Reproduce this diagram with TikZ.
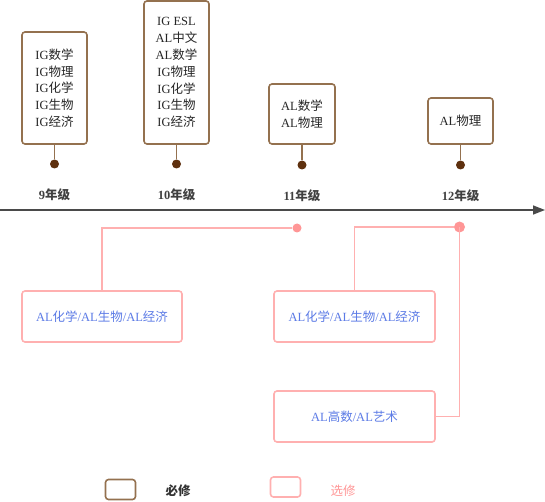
\documentclass[tikz,border=0pt]{standalone}
\usepackage{fontspec}
\setmainfont{Liberation Serif}
\newfontfamily\cjk{Noto Sans CJK SC}
\usetikzlibrary{arrows.meta}
\definecolor{brownline}{HTML}{94714F}
\definecolor{browndot}{HTML}{5E300E}
\definecolor{pinkline}{HTML}{FFB0B0}
\definecolor{pinkdot}{HTML}{FF9696}
\definecolor{bluetext}{HTML}{5C7BE6}
\definecolor{axisgray}{HTML}{4A4A4A}
\newcommand{\zh}[1]{{\cjk #1}}
\tikzset{
  reqbox/.style={draw=brownline, line width=1.6pt, rounded corners=3pt, fill=white, align=center, inner sep=0pt, font=\fontsize{12.5}{16.8}\selectfont, text=black!85},
  optbox/.style={draw=pinkline, line width=1.6pt, rounded corners=3pt, fill=white, align=center, inner sep=0pt, minimum width=160pt, minimum height=51pt, font=\fontsize{12.5}{15}\selectfont, text=bluetext},
  stem/.style={draw=brownline, line width=1.6pt},
  bdot/.style={circle, fill=browndot, inner sep=0pt, minimum size=9pt},
  pline/.style={draw=pinkline, line width=1.7pt},
  pdot/.style={circle, fill=pinkdot, inner sep=0pt},
  yearlbl/.style={font=\bfseries\fontsize{12.5}{14}\selectfont, text=black!75},
}
\begin{document}
\begin{tikzpicture}[x=1pt,y=-1pt]
\useasboundingbox (0,0) rectangle (545,502);
% required boxes
\node[reqbox, minimum width=65pt, minimum height=112pt] (b9) at (54.5,88) {IG\zh{数学}\\IG\zh{物理}\\IG\zh{化学}\\IG\zh{生物}\\IG\zh{经济}};
\node[reqbox, minimum width=65pt, minimum height=143pt] (b10) at (176.5,72.5) {IG ESL\\AL\zh{中文}\\AL\zh{数学}\\IG\zh{物理}\\IG\zh{化学}\\IG\zh{生物}\\IG\zh{经济}};
\node[reqbox, minimum width=66pt, minimum height=60pt] (b11) at (302,114) {AL\zh{数学}\\AL\zh{物理}};
\node[reqbox, minimum width=65pt, minimum height=46pt] (b12) at (460.5,121) {AL\zh{物理}};
% dots
\node[bdot] (d9) at (54.5,164) {};
\node[bdot] (d10) at (176.5,164) {};
\node[bdot] (d11) at (302,165) {};
\node[bdot] (d12) at (460.5,165) {};
\draw[stem] (b9.south) -- (d9);
\draw[stem] (b10.south) -- (d10);
\draw[stem] (b11.south) -- (d11);
\draw[stem] (b12.south) -- (d12);
% year labels
\node[yearlbl] (y9) at (54.5,195) {9\zh{年级}};
\node[yearlbl] (y10) at (176.5,195) {10\zh{年级}};
\node[yearlbl] (y11) at (302,196) {11\zh{年级}};
\node[yearlbl] (y12) at (460.5,196) {12\zh{年级}};
% axis
\coordinate (axL) at (0,210);
\coordinate (axR) at (545,210);
\draw[axisgray, line width=1.6pt, -{Triangle[length=12pt,width=9pt]}] (axL) -- (axR);
% optional boxes
\node[optbox] (p1) at (102,316.5) {AL\zh{化学}/AL\zh{生物}/AL\zh{经济}};
\node[optbox, minimum width=161pt] (p2) at (354.5,316.5) {AL\zh{化学}/AL\zh{生物}/AL\zh{经济}};
\node[optbox, minimum width=161pt] (p3) at (354.5,416.5) {AL\zh{高数}/AL\zh{艺术}};
\node[pdot, minimum size=9pt] (o11) at (297,228) {};
\node[pdot, minimum size=11pt] (o12) at (459.5,227) {};
\draw[pline] (p1.north) |- (o11);
\draw[pline] (p2.north) |- (o12);
\draw[pline] (o12.center) |- (p3.east);
% legend
\node[draw=brownline, line width=1.6pt, rounded corners=3pt, minimum width=30pt, minimum height=20pt, inner sep=0pt] (lg1) at (120.5,489.5) {};
\node[font=\bfseries\fontsize{12.5}{14}\selectfont, text=black!80] (lt1) at (178,491) {\zh{必修}};
\node[draw=pinkline, line width=1.6pt, rounded corners=3pt, minimum width=30pt, minimum height=20pt, inner sep=0pt] (lg2) at (285.5,487) {};
\node[font=\fontsize{12.5}{14}\selectfont, text=pinkdot] (lt2) at (343,491) {\zh{选修}};
\end{tikzpicture}
\end{document}
